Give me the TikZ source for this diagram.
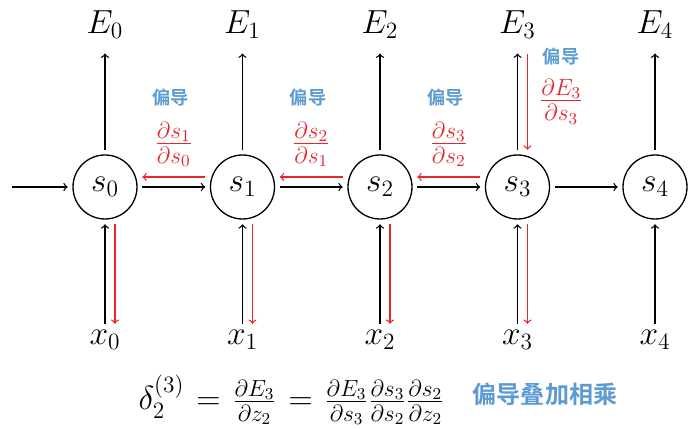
\RequirePackage{fix-cm}
\documentclass[tikz,border=0pt]{standalone}
\usepackage{amsmath}
\usepackage{fontspec}
\usetikzlibrary{positioning}
\newfontfamily\cjk{Noto Sans CJK SC}[BoldFont={Noto Sans CJK SC Bold}]
\definecolor{gradred}{RGB}{228,40,46}
\definecolor{noteblue}{RGB}{92,154,210}
\newcommand\bigfont{\fontsize{19}{23}\selectfont}
\tikzset{
  state/.style={circle,draw,minimum size=1.28cm,inner sep=0pt,outer sep=3pt,font=\bigfont},
  lbl/.style={font=\bigfont},
  grad/.style={gradred,->},
  note/.style={text=noteblue,font=\cjk\bfseries\fontsize{10.4}{12}\selectfont,inner sep=2pt}
}
\begin{document}
\begin{tikzpicture}[x=0.02cm,y=0.02cm,line width=0.75pt,>=to]
  \useasboundingbox (0,0) rectangle (700,429);
  % states, outputs and inputs
  \foreach \i in {0,...,4}{
    \node[state] (s\i) at (105+137.5*\i,242) {$s_\i$};
    \node[lbl,outer sep=5pt] (E\i) at (105+137.5*\i,404) {$E_\i$};
    \node[lbl] (x\i) at (105+137.5*\i,89) {$x_\i$};
    \draw[->] (s\i) -- (E\i);
    \draw[->] (x\i) -- (s\i);
  }
  \foreach \i in {0,...,3}
    \draw[grad] ([xshift=0.2cm]s\i.south) -- ([xshift=0.2cm]x\i.north);
  \coordinate (in) at (12,242);
  \draw[->] (in) -- (s0);
  \foreach \i/\j in {0/1,1/2,2/3,3/4}
    \draw[->] (s\i) -- (s\j);
  % backward partial derivatives
  \foreach \i/\j in {0/1,1/2,2/3}{
    \draw[grad] ([yshift=0.2cm]s\j.west) -- node[above=2pt,font=\bigfont] (d\j\i) {$\frac{\partial s_\j}{\partial s_\i}$} ([yshift=0.2cm]s\i.east);
    \node[note,above=0.1cm of d\j\i,xshift=-0.06cm] (n\j\i) {偏导};
  }
  \draw[grad] ([xshift=0.2cm]E3.south) -- node[right=3pt,font=\bigfont] (dE) {$\frac{\partial E_3}{\partial s_3}$} ([xshift=0.2cm]s3.north);
  \node[note,above=0.06cm of dE] (nE) {偏导};
  % chain rule
  \node[font=\bigfont,anchor=west] (delta) at (132,29) {$\delta_2^{(3)} \mkern1.5mu=\mkern1.5mu \frac{\partial E_3}{\partial z_2} \mkern1.5mu=\mkern1.5mu \frac{\partial E_3}{\partial s_3}\frac{\partial s_3}{\partial s_2}\frac{\partial s_2}{\partial z_2}$};
  \node[note,font=\cjk\bfseries\fontsize{13.7}{16}\selectfont] (sum) at (545,35) {偏导叠加相乘};
\end{tikzpicture}
\end{document}
